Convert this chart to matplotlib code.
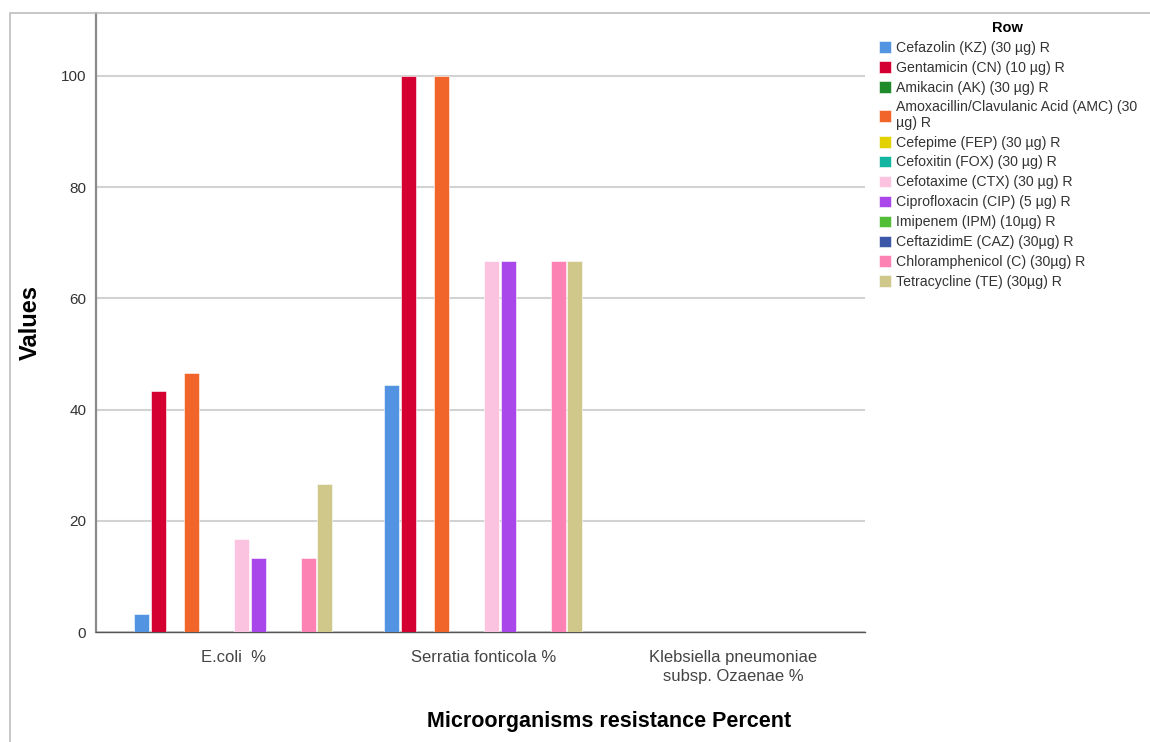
import matplotlib.pyplot as plt
import numpy as np
from matplotlib.patches import Rectangle

plt.rcParams['font.family'] = ['Liberation Sans', 'DejaVu Sans']

# data
organisms = ["E.coli  %", "Serratia fonticola %", "Klebsiella pneumoniae\nsubsp. Ozaenae %"]
antibiotics = [
    "Cefazolin (KZ) (30 µg) R",
    "Gentamicin (CN) (10 µg) R",
    "Amikacin (AK) (30 µg) R",
    "Amoxacillin/Clavulanic Acid (AMC) (30\nµg) R",
    "Cefepime (FEP) (30 µg) R",
    "Cefoxitin (FOX) (30 µg) R",
    "Cefotaxime (CTX) (30 µg) R",
    "Ciprofloxacin (CIP) (5 µg) R",
    "Imipenem (IPM) (10µg) R",
    "CeftazidimE (CAZ) (30µg) R",
    "Chloramphenicol (C) (30µg) R",
    "Tetracycline (TE) (30µg) R",
]
ecoli = [3.33, 43.33, 0, 46.67, 0, 0, 16.67, 13.33, 0, 0, 13.33, 26.67]
serratia = [44.44, 100, 0, 100, 0, 0, 66.67, 66.67, 0, 0, 66.67, 66.67]
klebsiella = [0, 0, 0, 0, 0, 0, 0, 0, 0, 0, 0, 0]
colors = ["#5294E2", "#D50032", "#1F8B2A", "#F1652A", "#E3D200", "#13B4A0",
          "#FCC3E0", "#AA47EB", "#52BE38", "#3D57A8", "#FD82B4", "#D0C88A"]

values = np.array([ecoli, serratia, klebsiella])

fig = plt.figure(figsize=(11.5, 7.42), dpi=100)
ax = fig.add_axes([0.0835, 0.148, 0.669, 0.8345])

# outer frame around the chart (only top and left are visible)
fig.patches.append(Rectangle((10 / 1150, -0.05), 1.2, 1 - 13 / 742 + 0.05,
                             transform=fig.transFigure, fill=False,
                             edgecolor="#BDBDBD", linewidth=1.2))

n = len(antibiotics)
slot = 0.8 / n
x = np.arange(len(organisms))
handles = []
for i in range(n):
    pos = x - 0.4 + slot * (i + 0.5)
    b = ax.bar(pos, values[:, i], width=slot * 0.9, color=colors[i],
               edgecolor="white", linewidth=0.4, label=antibiotics[i], zorder=3)
    handles.append(b)

ax.set_xlim(-0.548, 2.528)
ax.set_ylim(0, 111.3)
ax.set_yticks([0, 20, 40, 60, 80, 100])
ax.set_xticks(x)
ax.set_xticklabels(organisms, fontsize=12, color="#444444", linespacing=1.3)
ax.tick_params(axis='both', length=0)
ax.tick_params(axis='x', pad=13)
ax.tick_params(axis='y', labelsize=11, labelcolor="#333333", pad=7)
ax.yaxis.grid(True, color="#D2D2D2", linewidth=1.5, zorder=0)

for s in ["top", "right"]:
    ax.spines[s].set_visible(False)
ax.spines["left"].set_color("#8A8A8A")
ax.spines["left"].set_linewidth(1.6)
ax.spines["bottom"].set_color("#555555")
ax.spines["bottom"].set_linewidth(1.0)

ax.set_ylabel("Values", fontsize=17, fontweight="bold")
ax.yaxis.set_label_coords(-0.07, 0.5)
fig.text(609 / 1150, 1 - 722 / 742, "Microorganisms resistance Percent",
         ha="center", va="center", fontsize=15.5, fontweight="bold")

leg = fig.legend(handles=handles, labels=antibiotics, loc="upper left",
                 bbox_to_anchor=(873 / 1150, 1 - 15 / 742), frameon=False,
                 fontsize=10.2, title="Row", handlelength=0.9, handleheight=0.9,
                 handletextpad=0.3, labelspacing=0.42, borderaxespad=0)
leg.get_title().set_fontweight("bold")
leg.get_title().set_fontsize(10.5)
for t in leg.get_texts():
    t.set_color("#333333")
    t.set_linespacing(1.1)

fig.savefig("out.png", dpi=100)
